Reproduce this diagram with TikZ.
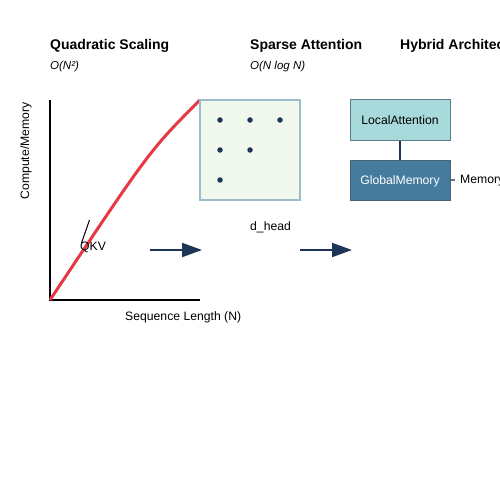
\documentclass[tikz,border=0pt]{standalone}
\usepackage{fontspec}
\setmainfont{Liberation Sans}
\usetikzlibrary{arrows.meta}
\definecolor{navy}{HTML}{1D3557}
\definecolor{redc}{HTML}{E63946}
\definecolor{lightb}{HTML}{A8DADC}
\definecolor{midb}{HTML}{457B9D}
\definecolor{paleg}{HTML}{F1F8EE}
\definecolor{boxedge}{HTML}{9CBCCB}
\definecolor{hedge}{HTML}{5D7B8E}
\begin{document}
\begin{tikzpicture}[x=1pt,y=-1pt,
  title/.style={font=\fontsize{14}{16}\selectfont\bfseries,anchor=base west,inner sep=0},
  sub/.style={font=\fontsize{11.5}{13}\selectfont\itshape,anchor=base west,inner sep=0},
  lbl/.style={font=\fontsize{12.2}{14}\selectfont,inner sep=0},
  axis/.style={line width=2pt,black},
  dot/.style={circle,fill=navy,inner sep=0,minimum size=5.5pt},
  flow/.style={navy,line width=2pt,-{Triangle[length=20pt,width=14pt]}},
  hbox/.style={draw=hedge,line width=1pt,minimum width=100pt,minimum height=40pt,font=\fontsize{12.2}{14}\selectfont,inner sep=0,text height=10pt,text depth=0.3pt}]
\useasboundingbox (0,0) rectangle (500,500);
\clip (0,0) rectangle (500,500);
\fill[white] (0,0) rectangle (500,500);
% titles
\node[title] (t1) at (50,50) {Quadratic Scaling};
\node[sub] (s1) at (50,70) {O(N²)};
\node[title] (t2) at (250,50) {Sparse Attention};
\node[sub] (s2) at (250,70) {O(N log N)};
\node[title] (t3) at (400,50) {Hybrid Architecture};
% axes
\coordinate (o) at (50,300);
\coordinate (ytop) at (50,100);
\coordinate (xend) at (200,300);
\draw[axis] (ytop) -- (o) -- (xend);
\node[lbl,rotate=90] (ylab) at (26,151) {Compute/Memory};
\node[lbl,anchor=base west] (xlab) at (125,320) {Sequence Length (N)};
% curve
\coordinate (ctop) at (200,100);
\draw[redc,line width=3pt] (o) .. controls (150,150) .. (ctop);
% QKV tick
\coordinate (q1) at (89.5,220);
\coordinate (q2) at (81.5,243);
\draw[black,line width=1pt] (q1) -- (q2);
\node[lbl,anchor=base west] (qkv) at (80,250) {QKV};
% sparse matrix
\node[draw=boxedge,fill=paleg,line width=1.5pt,minimum width=100pt,minimum height=100pt,inner sep=0] (mat) at (250,150) {};
\node[dot] (d1) at (220,120) {};
\node[dot] (d2) at (250,120) {};
\node[dot] (d3) at (280,120) {};
\node[dot] (d4) at (220,150) {};
\node[dot] (d5) at (250,150) {};
\node[dot] (d6) at (220,180) {};
\node[lbl,anchor=base west] (dh) at (250,230) {d\_head};
% arrows
\coordinate (a1s) at (150,250);
\coordinate (a1e) at (202,250);
\coordinate (a2s) at (300,250);
\coordinate (a2e) at (352,250);
\draw[flow] (a1s) -- (a1e);
\draw[flow] (a2s) -- (a2e);
% hybrid
\node[hbox,fill=lightb,text=black] (la) at (400,120) {LocalAttention};
\node[hbox,fill=midb,text=white,draw=hedge!80!black] (gm) at (400,180) {GlobalMemory};
\draw[navy,line width=2pt] (la.south) -- (gm.north);
\node[lbl,anchor=west] (mem) at (460,181) {Memory};
\coordinate (mtick) at (455,180);
\draw[hedge,line width=1.5pt] (gm.east) -- (mtick);
\end{tikzpicture}
\end{document}
